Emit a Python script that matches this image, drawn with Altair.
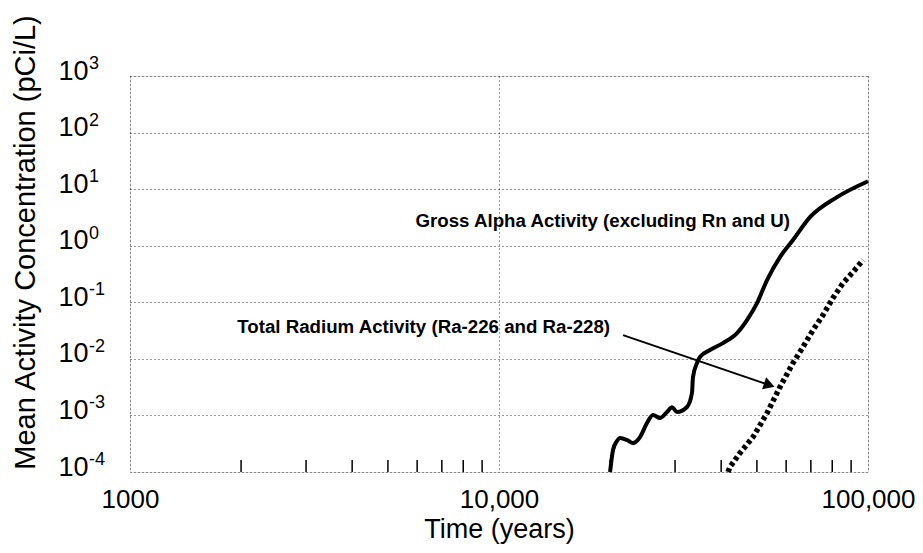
import altair as alt
import pandas as pd

# Gross Alpha Activity (excluding Rn and U) — solid curve
gross_time = [20000, 20370, 20880, 21280, 22230, 23070, 24110, 25180, 26140, 27310,
              28530, 29430, 30370, 32320, 33340, 33550, 34400, 35050, 37300, 40460,
              44160, 47000, 50030, 53260, 57740, 62610, 69630, 82410, 100000]
gross_conc = [1.0e-4, 2.45e-4, 3.53e-4, 3.99e-4, 3.68e-4, 3.25e-4, 4.15e-4, 7.34e-4, 1.02e-3, 9.0e-4,
              1.15e-3, 1.4e-3, 1.15e-3, 1.41e-3, 2.49e-3, 4.76e-3, 8.43e-3, 1.08e-2, 1.43e-2, 1.90e-2,
              2.86e-2, 4.85e-2, 9.68e-2, 0.247, 0.629, 1.26, 3.20, 7.22, 13.8]

# Total Radium Activity (Ra-226 and Ra-228) — dotted curve
ra_time = [41740, 42270, 44990, 48790, 53260, 57740, 62610, 66650, 70940, 75510,
           80370, 85540, 91060, 96920]
ra_conc = [1.0e-4, 1.23e-4, 2.17e-4, 4.15e-4, 1.10e-3, 3.18e-3, 8.43e-3, 1.62e-2, 3.23e-2, 5.94e-2,
           0.119, 0.218, 0.342, 0.557]

# axis ticks
x_major = [1000, 10000, 100000]
x_minor = [2000, 3000, 4000, 5000, 6000, 7000, 8000, 9000,
           20000, 30000, 40000, 50000, 60000, 70000, 80000, 90000]
y_major = [1e-4, 1e-3, 1e-2, 1e-1, 1, 10, 100, 1000]
y_exponents = ["-4", "-3", "-2", "-1", "0", "1", "2", "3"]

# annotations
label_text = ["Gross Alpha Activity (excluding Rn and U)", "Total Radium Activity (Ra-226 and Ra-228)"]
label_time = [61460, 20000]
label_conc = [2.72, 0.0365]
arrow_time = [21680, 54020]
arrow_conc = [0.0263, 0.00344]

FONT = "Liberation Sans, Arial"

gross_df = pd.DataFrame({"t": gross_time, "c": gross_conc, "o": list(range(len(gross_time)))})
ra_df = pd.DataFrame({"t": ra_time, "c": ra_conc, "o": list(range(len(ra_time)))})
minor_df = pd.DataFrame({"t": x_minor})
exp_df = pd.DataFrame({"c": y_major, "e": y_exponents})
label_df = pd.DataFrame({"t": label_time, "c": label_conc, "txt": label_text})
arrow_df = pd.DataFrame({"t": arrow_time, "c": arrow_conc, "o": [0, 1]})
head_df = pd.DataFrame({"t": [arrow_time[1]], "c": [arrow_conc[1]]})

x_scale = alt.Scale(type="log", domain=[1000, 100000], nice=False)
y_scale = alt.Scale(type="log", domain=[1e-4, 1e3], nice=False)

x_axis = alt.Axis(
    values=x_major,
    labelExpr="datum.value == 1000 ? '1000' : format(datum.value, ',')",
    labelFont=FONT, labelFontSize=26, labelColor="black", labelPadding=14,
    labelFlush=False, labelOverlap=False, labelBound=False,
    ticks=False, domain=False,
    grid=True, gridDash=[1, 3], gridColor="#333333", gridWidth=1,
    title="Time (years)", titleFont=FONT, titleFontSize=27, titleFontWeight="normal",
    titleColor="black", titlePadding=4,
)
y_axis = alt.Axis(
    values=y_major,
    labelExpr="'10'",
    labelFont=FONT, labelFontSize=27, labelColor="black", labelPadding=42, labelOffset=-5,
    labelOverlap=False, labelFlush=False, labelBound=False,
    ticks=False, domain=False,
    grid=True, gridDash=[1, 3], gridColor="#333333", gridWidth=1,
    title="Mean Activity Concentration (pCi/L)", titleFont=FONT, titleFontSize=29,
    titleFontWeight="normal", titleColor="black",
    titleX=-96, titleY=166, titleAngle=270, titleAlign="center", titleBaseline="alphabetic",
)

X = alt.X("t:Q", scale=x_scale, axis=x_axis)
Y = alt.Y("c:Q", scale=y_scale, axis=y_axis)
Xn = alt.X("t:Q", scale=x_scale)
Yn = alt.Y("c:Q", scale=y_scale)

gross = alt.Chart(gross_df).mark_line(color="black", strokeWidth=4, interpolate="monotone").encode(
    x=X, y=Y, order="o:Q")
ra = alt.Chart(ra_df).mark_line(color="black", strokeWidth=5.5, strokeDash=[4, 3]).encode(
    x=Xn, y=Yn, order="o:Q")
minor = alt.Chart(minor_df).mark_rule(color="black", strokeWidth=1.5).encode(
    x=Xn, y=alt.value(384), y2=alt.value(396))
exps = alt.Chart(exp_df).mark_text(
    font=FONT, fontSize=18, align="left", baseline="alphabetic", dy=-7, color="black"
).encode(x=alt.value(-41), y=Yn, text="e:N")
labels = alt.Chart(label_df).mark_text(
    font=FONT, fontSize=18.7, fontWeight="bold", align="right", baseline="middle", color="black"
).encode(x=Xn, y=Yn, text="txt:N")
arrow = alt.Chart(arrow_df).mark_line(color="black", strokeWidth=2).encode(x=Xn, y=Yn, order="o:Q")
head = alt.Chart(head_df).mark_point(
    shape="triangle-right", filled=True, color="black", size=160, angle=19, opacity=1
).encode(x=Xn, y=Yn)

chart = alt.layer(gross, ra, minor, arrow, head, labels, exps).properties(
    width=738, height=396,
    padding={"left": 122, "top": 68, "right": 47, "bottom": 77},
    autosize=alt.AutoSizeParams(type="none"),
).configure_view(stroke="black", strokeWidth=3).configure(background="white")

chart.save("out.html", embed_options={"renderer": "svg", "actions": False})
